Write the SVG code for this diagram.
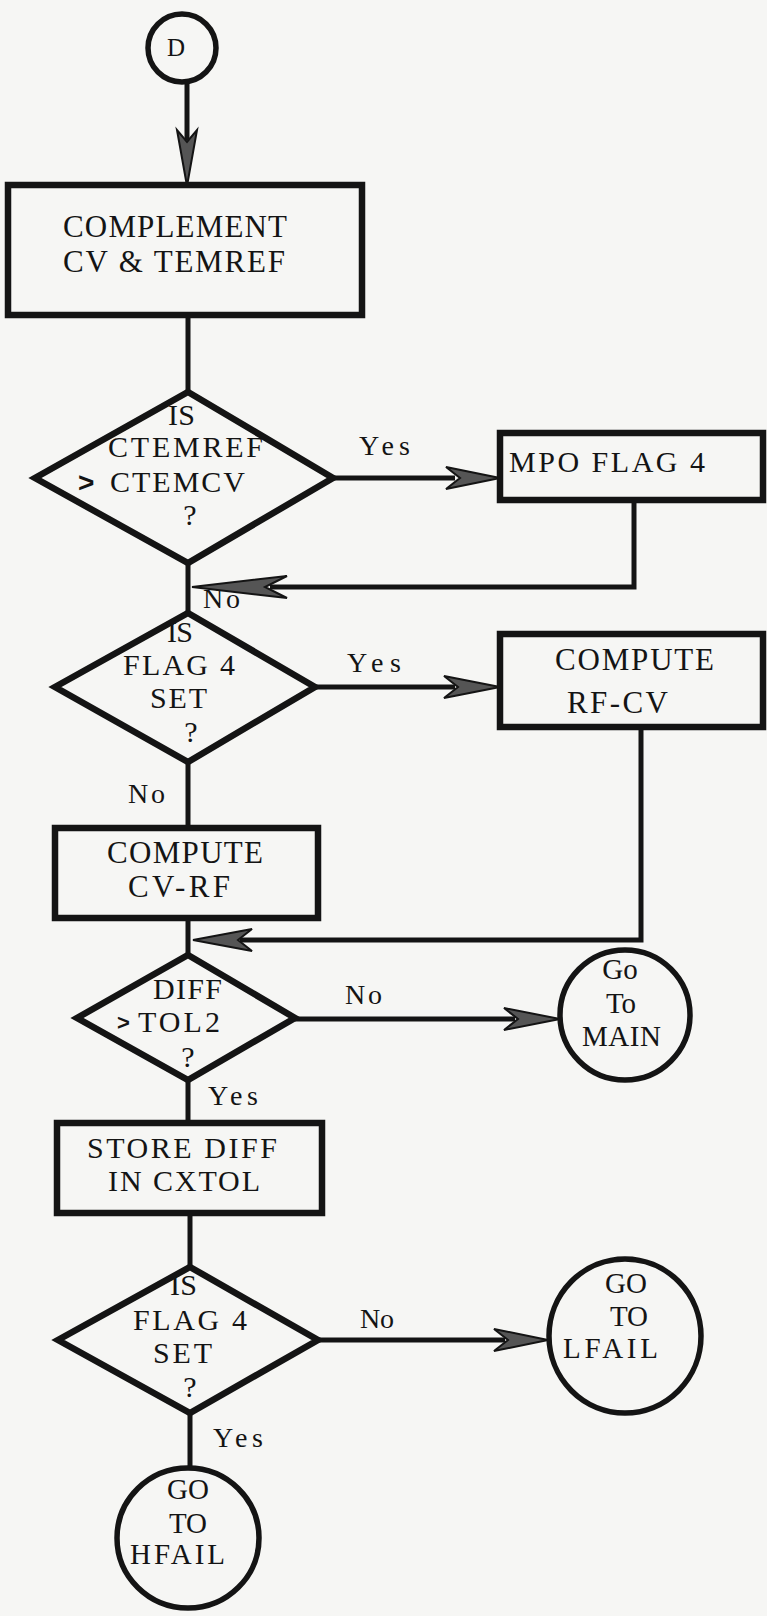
<svg xmlns="http://www.w3.org/2000/svg" width="767" height="1616" viewBox="0 0 767 1616">
<style>
.bg{fill:#f6f6f4}
.box{fill:none;stroke:#141414;stroke-width:6.5}
.dia{fill:none;stroke:#141414;stroke-width:6.5;stroke-linejoin:miter}
.circ{fill:none;stroke:#141414;stroke-width:5.5}
.ln{fill:none;stroke:#141414;stroke-width:5}
.ah{fill:#555;stroke:#141414;stroke-width:2;stroke-linejoin:miter}
text{font-family:"Liberation Serif","Times New Roman",serif;fill:#141414}
.t{font-size:31px}
.t2{font-size:30px}
.d{font-size:30px}
.l{font-size:28px}
.c{font-size:29px}
.gt{font-weight:bold;font-family:"Liberation Sans",Arial,sans-serif}
</style>
<rect class="bg" x="0" y="0" width="767" height="1616"/>

<g id="connectors">
  <line class="ln" x1="187" y1="82" x2="187" y2="140"/>
  <polygon class="ah" points="187,186 177,130 187,142 197,130"/>
  <line class="ln" x1="188" y1="315" x2="188" y2="392"/>
  <line class="ln" x1="333" y1="478" x2="455" y2="478"/>
  <polygon class="ah" points="500,478 446,467 460,478 446,489"/>
  <polyline class="ln" points="634,500 634,587 270,587"/>
  <line class="ln" x1="188" y1="563" x2="188" y2="613"/>
  <polygon class="ah" points="192,587 287,576 265,587 287,598"/>
  <line class="ln" x1="315" y1="687" x2="455" y2="687"/>
  <polygon class="ah" points="500,687 444,676 458,687 444,698"/>
  <line class="ln" x1="188" y1="762" x2="188" y2="828"/>
  <polyline class="ln" points="641,727 641,940 240,940"/>
  <line class="ln" x1="188" y1="918" x2="188" y2="955"/>
  <polygon class="ah" points="193,940 252,929 238,940 252,951"/>
  <line class="ln" x1="295" y1="1019" x2="515" y2="1019"/>
  <polygon class="ah" points="560,1019 504,1008 518,1019 504,1030"/>
  <line class="ln" x1="188" y1="1080" x2="188" y2="1123"/>
  <line class="ln" x1="190" y1="1213" x2="190" y2="1267"/>
  <line class="ln" x1="318" y1="1340" x2="505" y2="1340"/>
  <polygon class="ah" points="548,1340 494,1329 508,1340 494,1351"/>
  <line class="ln" x1="190" y1="1413" x2="190" y2="1468"/>
  <text class="l" x="359" y="455" textLength="51" lengthAdjust="spacing">Yes</text>
  <text class="l" x="203" y="608" textLength="37" lengthAdjust="spacing">No</text>
  <text class="l" x="347" y="672" textLength="54" lengthAdjust="spacing">Yes</text>
  <text class="l" x="128" y="803" textLength="37" lengthAdjust="spacing">No</text>
  <text class="l" x="345" y="1004" textLength="37" lengthAdjust="spacing">No</text>
  <text class="l" x="208" y="1105" textLength="50" lengthAdjust="spacing">Yes</text>
  <text class="l" x="360" y="1328" textLength="34" lengthAdjust="spacing">No</text>
  <text class="l" x="213" y="1447" textLength="50" lengthAdjust="spacing">Yes</text>
</g>

<g id="start-D">
  <circle class="circ" cx="182" cy="48" r="34"/>
  <text x="176" y="56" font-size="25" text-anchor="middle">D</text>
</g>

<g id="complement">
  <rect class="box" x="8" y="185" width="354" height="130"/>
  <text class="t" x="63" y="237" textLength="224" lengthAdjust="spacing">COMPLEMENT</text>
  <text class="t" x="63" y="272" textLength="222" lengthAdjust="spacing">CV &amp; TEMREF</text>
</g>

<g id="decision-ctemref">
  <polygon class="dia" points="188,392 333,478 188,563 35,478"/>
  <text class="d" x="168" y="425" textLength="27" lengthAdjust="spacing">IS</text>
  <text class="d" x="108" y="457" textLength="155" lengthAdjust="spacing">CTEMREF</text>
  <text class="d" y="492"><tspan class="gt" x="78" font-size="28">&gt;</tspan><tspan x="110" textLength="135" lengthAdjust="spacing">CTEMCV</tspan></text>
  <text class="d" x="190" y="525" text-anchor="middle">?</text>
</g>

<g id="mpo-flag4">
  <rect class="box" x="500" y="433" width="263" height="67"/>
  <text class="t2" x="509" y="472" textLength="196" lengthAdjust="spacing">MPO FLAG 4</text>
</g>

<g id="decision-flag4-a">
  <polygon class="dia" points="188,613 315,687 188,762 55,687"/>
  <text class="d" x="167" y="642" textLength="26" lengthAdjust="spacing">IS</text>
  <text class="d" x="123" y="675" textLength="112" lengthAdjust="spacing">FLAG 4</text>
  <text class="d" x="150" y="708" textLength="57" lengthAdjust="spacing">SET</text>
  <text class="d" x="191" y="742" text-anchor="middle">?</text>
</g>

<g id="compute-rf-cv">
  <rect class="box" x="500" y="634" width="263" height="93"/>
  <text class="t" x="555" y="670" textLength="159" lengthAdjust="spacing">COMPUTE</text>
  <text class="t" x="567" y="713" textLength="101" lengthAdjust="spacing">RF-CV</text>
</g>

<g id="compute-cv-rf">
  <rect class="box" x="55" y="828" width="263" height="90"/>
  <text class="t" x="107" y="863" textLength="156" lengthAdjust="spacing">COMPUTE</text>
  <text class="t" x="128" y="897" textLength="102" lengthAdjust="spacing">CV-RF</text>
</g>

<g id="decision-diff">
  <polygon class="dia" points="188,955 295,1018 188,1080 77,1018"/>
  <text class="d" x="153" y="999" textLength="69" lengthAdjust="spacing">DIFF</text>
  <text class="d" y="1030"><tspan class="gt" x="117" font-size="22">&gt;</tspan><tspan x="138" y="1032" textLength="82" lengthAdjust="spacing">TOL2</tspan></text>
  <text class="d" x="188" y="1067" text-anchor="middle">?</text>
</g>

<g id="go-to-main">
  <ellipse class="circ" cx="625" cy="1015" rx="65" ry="65"/>
  <text class="c" x="620" y="979" text-anchor="middle">Go</text>
  <text class="c" x="621" y="1013" text-anchor="middle">To</text>
  <text class="c" x="582" y="1046" textLength="79" lengthAdjust="spacing">MAIN</text>
</g>

<g id="store-diff">
  <rect class="box" x="57" y="1123" width="265" height="90"/>
  <text class="t2" x="87" y="1158" textLength="190" lengthAdjust="spacing">STORE DIFF</text>
  <text class="t2" x="108" y="1191" textLength="152" lengthAdjust="spacing">IN CXTOL</text>
</g>

<g id="decision-flag4-b">
  <polygon class="dia" points="190,1267 318,1340 190,1413 58,1340"/>
  <text class="d" x="170" y="1295" textLength="27" lengthAdjust="spacing">IS</text>
  <text class="d" x="133" y="1330" textLength="114" lengthAdjust="spacing">FLAG 4</text>
  <text class="d" x="153" y="1363" textLength="59" lengthAdjust="spacing">SET</text>
  <text class="d" x="190" y="1397" text-anchor="middle">?</text>
</g>

<g id="go-to-lfail">
  <ellipse class="circ" cx="625" cy="1336" rx="76" ry="77"/>
  <text class="c" x="626" y="1293" text-anchor="middle">GO</text>
  <text class="c" x="629" y="1326" text-anchor="middle">TO</text>
  <text class="c" x="563" y="1358" textLength="95" lengthAdjust="spacing">LFAIL</text>
</g>

<g id="go-to-hfail">
  <ellipse class="circ" cx="188" cy="1538" rx="71" ry="70"/>
  <text class="c" x="188" y="1499" text-anchor="middle">GO</text>
  <text class="c" x="188" y="1533" text-anchor="middle">TO</text>
  <text class="c" x="130" y="1564" textLength="95" lengthAdjust="spacing">HFAIL</text>
</g>
</svg>
